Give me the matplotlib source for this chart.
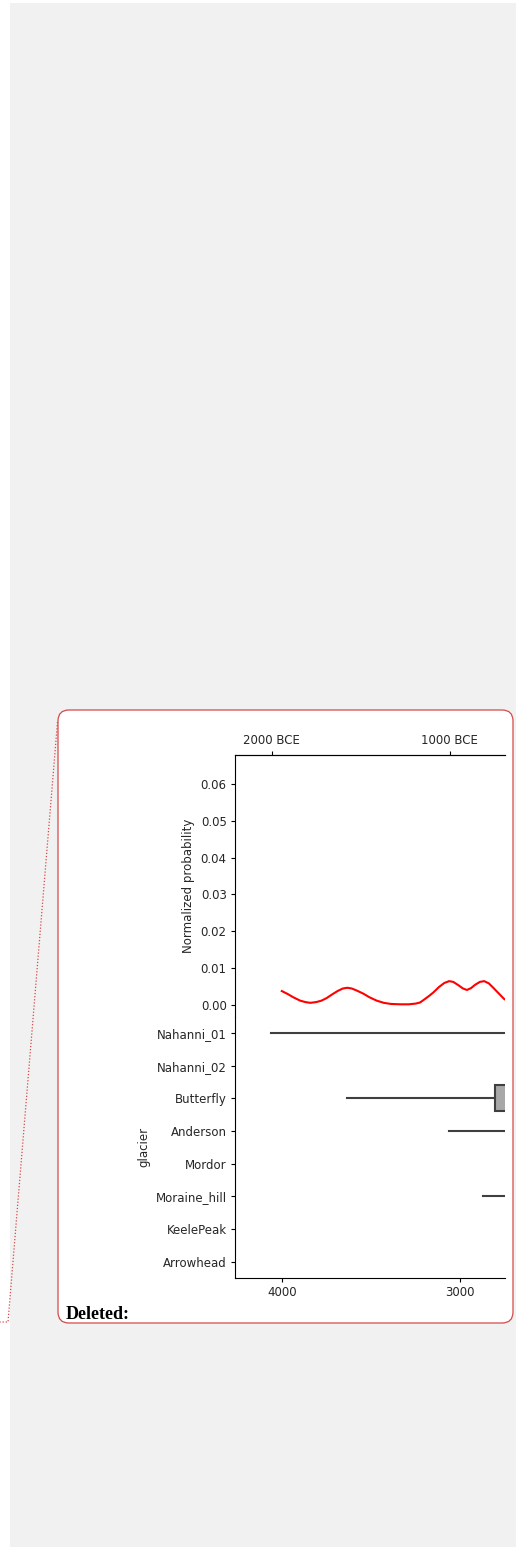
import matplotlib
matplotlib.use("Agg")
import matplotlib.pyplot as plt
from matplotlib.patches import FancyBboxPatch, Rectangle
from matplotlib.lines import Line2D

# ---- data -------------------------------------------------------------
# summed probability curve (years BP, normalized probability)
kde_years = [4003, 3970, 3938, 3900, 3870, 3844, 3810, 3780, 3751, 3720,
             3690, 3660, 3635, 3610, 3580, 3545, 3510, 3470, 3430, 3390,
             3339, 3290, 3250, 3226, 3200, 3175, 3152, 3120, 3090, 3063,
             3040, 3011, 2985, 2963, 2940, 2917, 2890, 2866, 2840, 2815,
             2785, 2755, 2720]
kde_prob = [0.0037, 0.0029, 0.0020, 0.0011, 0.0007, 0.0005, 0.0007, 0.0011,
            0.0018, 0.0028, 0.0037, 0.0044, 0.0046, 0.0044, 0.0038, 0.0030,
            0.0020, 0.0011, 0.0005, 0.0002, 0.0001, 0.0001, 0.0003, 0.0006,
            0.0015, 0.0024, 0.0033, 0.0048, 0.0059, 0.0064, 0.0062, 0.0053,
            0.0044, 0.0040, 0.0045, 0.0054, 0.0062, 0.0064, 0.0058, 0.0046,
            0.0031, 0.0016, 0.0005]

glaciers = ["Nahanni_01", "Nahanni_02", "Butterfly", "Anderson", "Mordor",
            "Moraine_hill", "KeelePeak", "Arrowhead"]

# box statistics per glacier (years BP)
box_glaciers = ["Nahanni_01", "Butterfly", "Anderson", "Moraine_hill"]
box_whishi = [4063, 3638, 3063, 2871]
box_q3 = [2600, 2805, 2650, 2620]
box_med = [2350, 2640, 2450, 2480]
box_q1 = [2100, 2450, 2250, 2300]
box_whislo = [1600, 2150, 2000, 2100]

bottom_ticks = [4000, 3000]
top_ticks = [2000, 1000]
BCE_OFFSET = 2060

# ---- figure -----------------------------------------------------------
W, H = 518, 1550
DPI = 100
fig = plt.figure(figsize=(W / DPI, H / DPI), dpi=DPI)
fig.patch.set_facecolor("white")

def fx(px):
    return px / W

def fy(py):
    return 1 - py / H

def ix(px):
    return px / DPI

def iy(py):
    return (H - py) / DPI

TEXT = "#262626"
RED_EDGE = "#d64848"

# page background
fig.patches.append(Rectangle((fx(10), fy(1547)), fx(506), 1544 / H,
                             transform=fig.transFigure, facecolor="#f1f1f1",
                             edgecolor="none", zorder=0))
# framed white panel (drawn in inches so the corners stay circular)
fig.patches.append(FancyBboxPatch((ix(58), iy(1323)), ix(455), 613 / DPI,
                                  boxstyle="round,pad=0,rounding_size=0.11",
                                  transform=fig.dpi_scale_trans,
                                  facecolor="white", edgecolor=RED_EDGE,
                                  linewidth=0.9, zorder=1))
# dotted connector
fig.lines.append(Line2D([fx(57.5), fx(8), fx(0)], [fy(722), fy(1322), fy(1322)],
                        transform=fig.transFigure, color=RED_EDGE,
                        linestyle=(0, (1, 1.5)), linewidth=0.9, zorder=1))

ax_left, ax_right = 235, 505
kde_top, split, box_bottom = 755, 1016.7, 1278

ax_kde = fig.add_axes([fx(ax_left), fy(split), fx(ax_right - ax_left),
                       (split - kde_top) / H])
ax_box = fig.add_axes([fx(ax_left), fy(box_bottom), fx(ax_right - ax_left),
                       (box_bottom - split) / H], sharex=ax_kde)
for a in (ax_kde, ax_box):
    a.set_zorder(3)
    a.patch.set_alpha(0)

xlim = (4266, 2749)

# probability curve
ax_kde.plot(kde_years, kde_prob, color="red", linewidth=1.5)
ax_kde.set_xlim(*xlim)
ax_kde.set_ylim(-0.00327, 0.0679)
ax_kde.set_yticks([0.00, 0.01, 0.02, 0.03, 0.04, 0.05, 0.06])
ax_kde.yaxis.set_major_formatter(plt.FormatStrFormatter("%.2f"))
ax_kde.set_ylabel("Normalized probability", fontsize=8.5, color=TEXT)
ax_kde.spines["right"].set_visible(False)
ax_kde.spines["bottom"].set_visible(False)
ax_kde.tick_params(axis="x", bottom=False, labelbottom=False)

sec = ax_kde.secondary_xaxis("top", functions=(lambda x: x - BCE_OFFSET,
                                               lambda x: x + BCE_OFFSET))
sec.set_xticks(top_ticks)
sec.set_xticklabels([f"{t} BCE" for t in top_ticks])
sec.tick_params(labelsize=8.5, labelcolor=TEXT, length=3, pad=3)

# box plot
stats = []
for i, g in enumerate(box_glaciers):
    stats.append(dict(label=g, whislo=box_whislo[i], q1=box_q1[i],
                      med=box_med[i], q3=box_q3[i], whishi=box_whishi[i]))
positions = [glaciers.index(g) for g in box_glaciers]
line_col = "#3f3f3f"
ax_box.bxp(stats, positions=positions, orientation="horizontal", widths=0.8,
           showfliers=False, showcaps=False, patch_artist=True,
           boxprops=dict(facecolor="#a8a8a8", edgecolor=line_col, linewidth=1.5),
           whiskerprops=dict(color=line_col, linewidth=1.5),
           medianprops=dict(color=line_col, linewidth=1.5))
ax_box.set_ylim(len(glaciers) - 0.5, -0.5)
ax_box.set_yticks(range(len(glaciers)))
ax_box.set_yticklabels(glaciers)
ax_box.set_xlim(*xlim)
ax_box.set_xticks(bottom_ticks)
ax_box.set_xticklabels([str(t) for t in bottom_ticks])
ax_box.set_ylabel("glacier", fontsize=8.5, color=TEXT)
ax_box.spines["right"].set_visible(False)
ax_box.spines["top"].set_visible(False)

for a in (ax_kde, ax_box):
    a.tick_params(labelsize=8.5, labelcolor=TEXT, length=3, pad=3)

fig.text(fx(66), fy(1319), "Deleted:", fontsize=13, fontweight="bold",
         family="Liberation Serif", color="black", ha="left", va="baseline",
         zorder=4)

fig.savefig("out.png", dpi=DPI)
